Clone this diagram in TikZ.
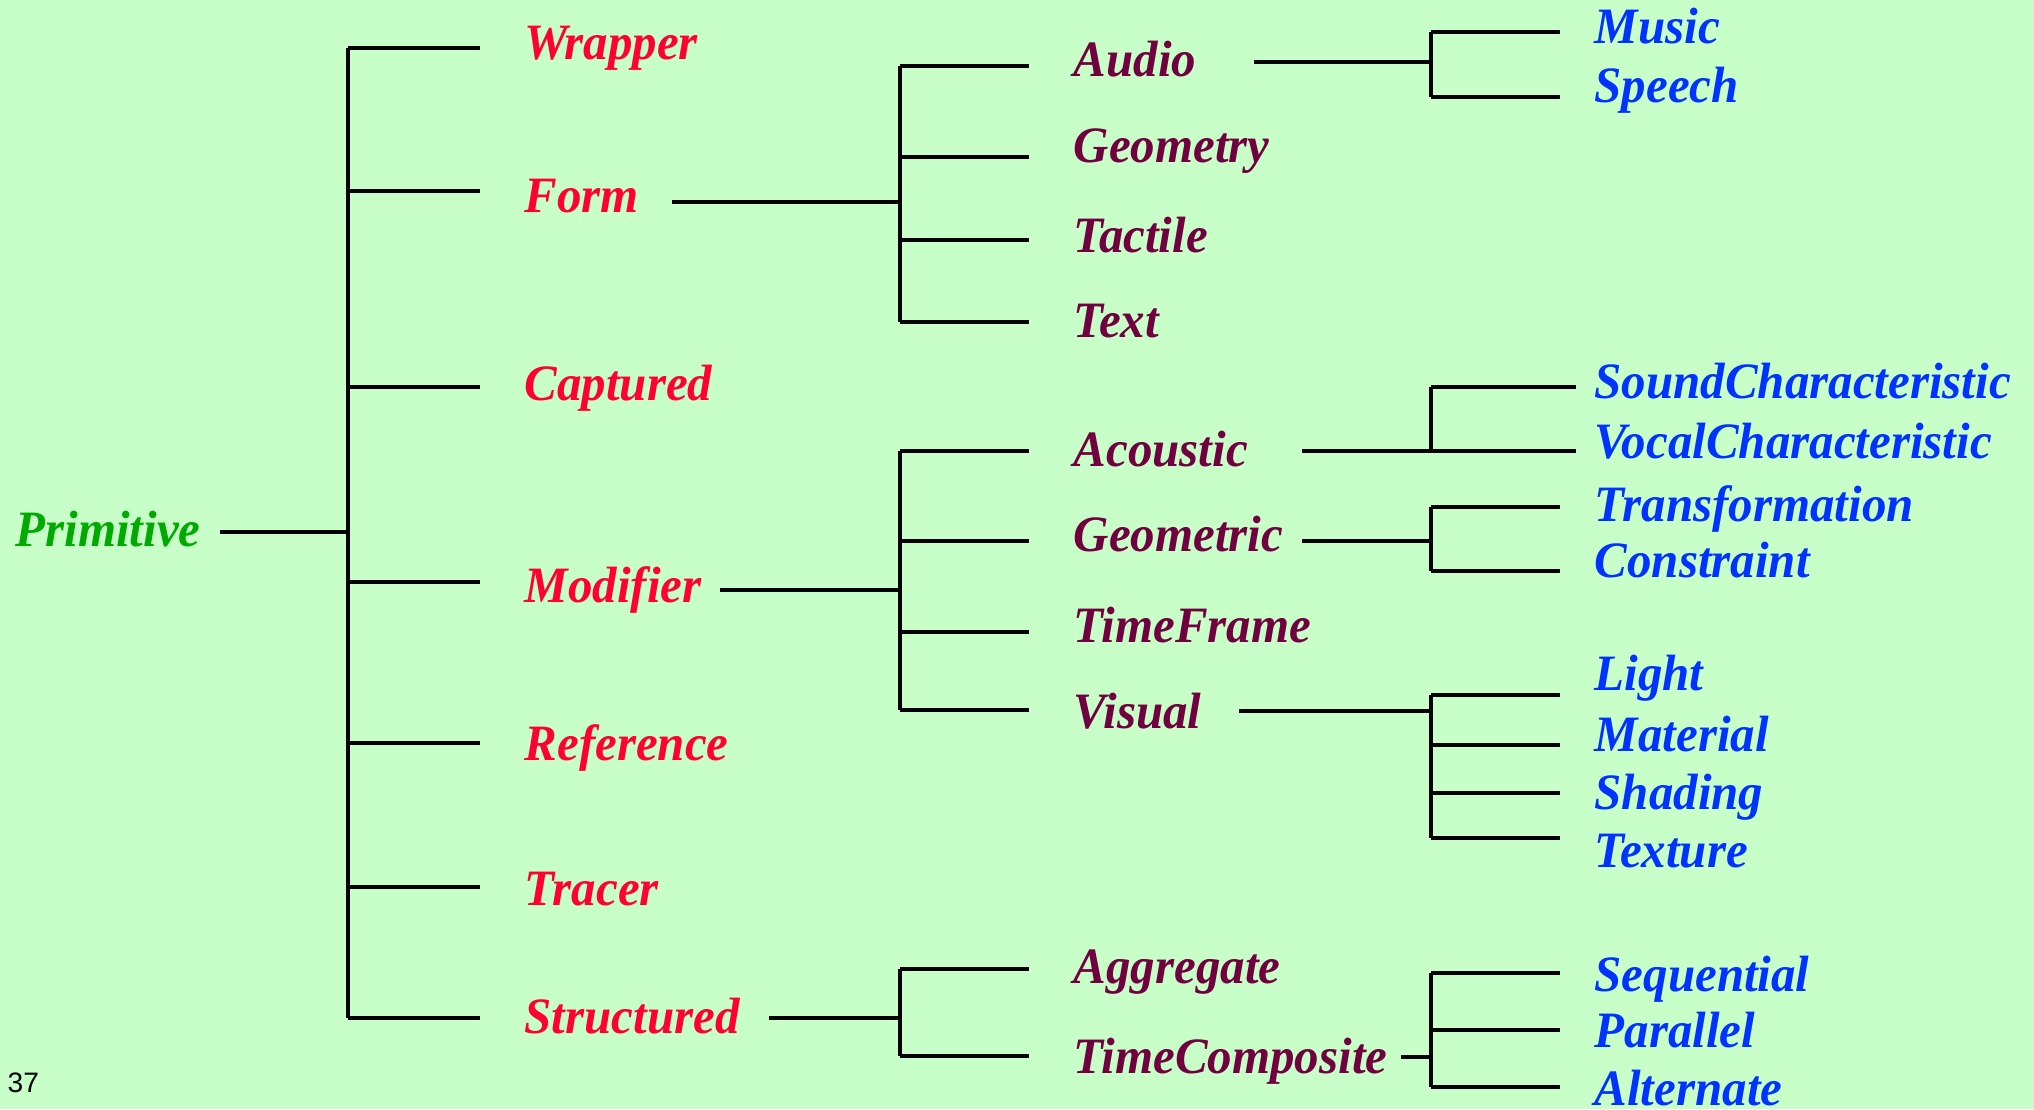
\documentclass[tikz,border=0pt]{standalone}
\usepackage{fontspec}
\setmainfont{Liberation Serif}[FakeStretch=0.96]
\setsansfont{Liberation Sans}
\usepackage{tikz}
\usetikzlibrary{calc, positioning}
\usepackage{xcolor}

\definecolor{bgcol}{RGB}{200,255,200}
\definecolor{rootcol}{RGB}{0,170,0}
\definecolor{onecol}{RGB}{255,0,51}
\definecolor{twocol}{RGB}{112,0,64}
\definecolor{threecol}{RGB}{0,51,255}

\tikzset{
  lab/.style={anchor=base west, inner sep=0pt, font=\fontsize{14.5}{17}\selectfont\bfseries\itshape},
  lvlzero/.style={lab, text=rootcol},
  lvlone/.style={lab, text=onecol},
  lvltwo/.style={lab, text=twocol},
  lvlthree/.style={lab, text=threecol},
}

% junction, stub back to parent, spine top/bottom, branch length, branch ys
\newcommand{\forkat}[6]{%
  \draw (#1) -- ++(#2,0);
  \draw (#1 |- 0,#3) -- (#1 |- 0,#4);
  \foreach \y in {#6} \draw (#1 |- 0,\y) -- ++(#5,0);
}

\begin{document}
\begin{tikzpicture}[x=0.01cm, y=-0.01cm, line width=0.95pt]
    \fill[bgcol] (0,0) rectangle (2034,1109);
    \useasboundingbox (0,0) rectangle (2034,1109);

    % labels
    \node[lvlzero] (prim) at (14,546) {Primitive};

    \node[lvlone] (wrapper)    at (523,59)   {Wrapper};
    \node[lvlone] (form)       at (523,212)  {Form};
    \node[lvlone] (captured)   at (523,400)  {Captured};
    \node[lvlone] (modifier)   at (523,602)  {Modifier};
    \node[lvlone] (reference)  at (523,760)  {Reference};
    \node[lvlone] (tracer)     at (523,905)  {Tracer};
    \node[lvlone] (structured) at (523,1033) {Structured};

    \node[lvltwo] (audio)     at (1072,77)   {Audio};
    \node[lvltwo] (geometry)  at (1072,162)  {Geometry};
    \node[lvltwo] (tactile)   at (1072,252)  {Tactile};
    \node[lvltwo] (text)      at (1072,337)  {Text};
    \node[lvltwo] (acoustic)  at (1072,466)  {Acoustic};
    \node[lvltwo] (geometric) at (1072,551)  {Geometric};
    \node[lvltwo] (timeframe) at (1072,642)  {TimeFrame};
    \node[lvltwo] (visual)    at (1072,728)  {Visual};
    \node[lvltwo] (aggregate) at (1072,983)  {Aggregate};
    \node[lvltwo] (timecomp)  at (1072,1073) {TimeComposite};

    \node[lvlthree] (music)     at (1593,43)   {Music};
    \node[lvlthree] (speech)    at (1593,102)  {Speech};
    \node[lvlthree] (soundch)   at (1593,398)  {SoundCharacteristic};
    \node[lvlthree] (vocalch)   at (1593,458)  {VocalCharacteristic};
    \node[lvlthree] (transf)    at (1593,521)  {Transformation};
    \node[lvlthree] (constr)    at (1593,577)  {Constraint};
    \node[lvlthree] (light)     at (1593,690)  {Light};
    \node[lvlthree] (material)  at (1593,751)  {Material};
    \node[lvlthree] (shading)   at (1593,809)  {Shading};
    \node[lvlthree] (texture)   at (1593,867)  {Texture};
    \node[lvlthree] (sequent)   at (1593,991)  {Sequential};
    \node[lvlthree] (parallel)  at (1593,1047) {Parallel};
    \node[lvlthree] (altern)    at (1593,1105) {Alternate};

    \node[anchor=base west, inner sep=0pt, font=\fontsize{8}{9}\selectfont\sffamily] (pagenum) at (6,1092) {37};

    % junctions
    \coordinate (jprim)  at (348,532);
    \coordinate (jform)  at (900,202);
    \coordinate (jmod)   at (900,590);
    \coordinate (jstr)   at (900,1018);
    \coordinate (jaudio) at (1431,62);
    \coordinate (jacou)  at (1431,451);
    \coordinate (jgeom)  at (1431,541);
    \coordinate (jvis)   at (1431,711);
    \coordinate (jtime)  at (1431,1057);

    % tree lines
    \forkat{jprim}{-128}{48}{1018}{132}{48,191,387,582,743,887,1018}
    \forkat{jform}{-228}{66}{322}{129}{66,157,240,322}
    \forkat{jmod}{-180}{451}{710}{129}{451,541,632,710}
    \forkat{jstr}{-131}{969}{1056}{129}{969,1056}
    \forkat{jaudio}{-177}{32}{97}{129}{32,97}
    \forkat{jacou}{-129}{387}{451}{145}{387,451}
    \forkat{jgeom}{-129}{507}{571}{129}{507,571}
    \forkat{jvis}{-192}{695}{838}{129}{695,745,793,838}
    \forkat{jtime}{-30}{973}{1087}{129}{973,1030,1087}
\end{tikzpicture}
\end{document}
